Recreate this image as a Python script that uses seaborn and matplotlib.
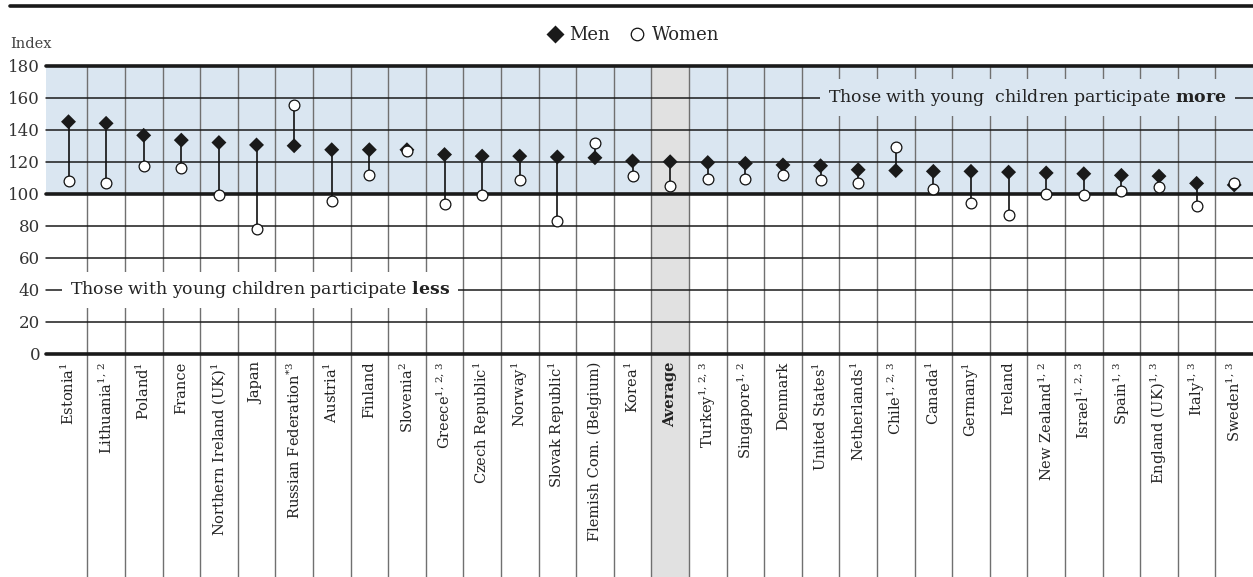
import pandas as pd
import matplotlib
matplotlib.use("Agg")
import matplotlib.pyplot as plt
import seaborn as sns
from matplotlib.lines import Line2D

# Data (index values)
countries = [r"Estonia$^{1}$", r"Lithuania$^{1,\,2}$", r"Poland$^{1}$", "France",
             r"Northern Ireland (UK)$^{1}$", "Japan", r"Russian Federation$^{*3}$",
             r"Austria$^{1}$", "Finland", r"Slovenia$^{2}$", r"Greece$^{1,\,2,\,3}$",
             r"Czech Republic$^{1}$", r"Norway$^{1}$", r"Slovak Republic$^{1}$",
             "Flemish Com. (Belgium)", r"Korea$^{1}$", "Average", r"Turkey$^{1,\,2,\,3}$",
             r"Singapore$^{1,\,2}$", "Denmark", r"United States$^{1}$", r"Netherlands$^{1}$",
             r"Chile$^{1,\,2,\,3}$", r"Canada$^{1}$", r"Germany$^{1}$", "Ireland",
             r"New Zealand$^{1,\,2}$", r"Israel$^{1,\,2,\,3}$", r"Spain$^{1,\,3}$",
             r"England (UK)$^{1,\,3}$", r"Italy$^{1,\,3}$", r"Sweden$^{1,\,3}$"]
men = [145, 144, 136.5, 133.5, 132, 130.5, 130, 127.5, 127.5, 127.5, 124.5, 123.5,
       123.5, 123, 122.5, 120.5, 120, 119.5, 119, 118, 117.5, 115, 114.5, 114, 114,
       113.5, 113, 112.5, 111.5, 111, 106.5, 105.5]
women = [108, 107, 117.5, 116, 99.5, 78, 155.5, 95.5, 111.5, 126.5, 93.5, 99, 108.5,
         83, 132, 111, 105, 109, 109, 112, 108.5, 107, 129, 103, 94.5, 87, 100, 99.5,
         101.5, 104.5, 92.5, 107]
yticks = [0, 20, 40, 60, 80, 100, 120, 140, 160, 180]

df = pd.DataFrame({"pos": range(len(countries)), "Men": men, "Women": women})
avg_pos = countries.index("Average")

sns.set_style("white")
plt.rcParams['font.family'] = ['DejaVu Serif']
plt.rcParams['mathtext.fontset'] = 'dejavuserif'

BLUE = "#dae6f1"
GREY = "#e1e1e1"

fig = plt.figure(figsize=(12.53, 5.77), dpi=100)
ax = fig.add_axes([45.7 / 1253, 0, 1 - 45.7 / 1253, 1 - 65.7 / 577])
ax.set_xlim(-0.5 - 4 / 37.6, len(countries) - 0.5)
ax.set_ylim(-139.4, 180)

# bands
ax.axhspan(100, 180, color=BLUE, zorder=0, lw=0)
ax.axvspan(avg_pos - 0.5, avg_pos + 0.5, ymax=1.0, color=GREY, zorder=0.5, lw=0)

# column separators
for k in range(1, len(countries)):
    ax.axvline(k - 0.5, color="#707070", lw=1.0, zorder=1)

# horizontal grid
for v in yticks:
    thick = v in (0, 100, 180)
    ax.axhline(v, color="#1a1a1a", lw=2.6 if thick else 1.1, zorder=1.5, clip_on=False)

# stems and markers
ax.vlines(df["pos"], df["Women"], df["Men"], color="#111111", lw=1.2, zorder=3)
sns.scatterplot(data=df, x="pos", y="Men", marker="D", color="#1a1a1a", s=58,
                edgecolor="none", ax=ax, zorder=4, legend=False)
sns.scatterplot(data=df, x="pos", y="Women", marker="o", color="white", s=60,
                edgecolor="#111111", linewidth=0.9, ax=ax, zorder=5, legend=False)

# axes styling
for s in ax.spines.values():
    s.set_visible(False)
ax.set_xticks([])
ax.set_yticks(yticks)
ax.set_yticklabels([str(v) for v in yticks], fontsize=12, color="#333333")
ax.tick_params(axis="y", length=0, pad=4)
ax.set_xlabel("")
ax.set_ylabel("")

# category labels
for i, lab in enumerate(countries):
    ax.text(i, -5, lab, rotation=90, ha="center", va="top", fontsize=10.5,
            color="#222222", fontweight="bold" if lab == "Average" else "normal")

# annotations
ax.text(25.5, 160, r"Those with young  children participate $\mathbf{more}$",
        ha="center", va="center", fontsize=12.5, color="#222222", zorder=6,
        bbox=dict(boxstyle="square,pad=0.45", fc=BLUE, ec="none"))
ax.text(5.1, 40, r"Those with young children participate $\mathbf{less}$",
        ha="center", va="center", fontsize=12.5, color="#222222", zorder=6,
        bbox=dict(boxstyle="square,pad=0.45", fc="white", ec="none"))

# top rule, index label, legend
fig.add_artist(Line2D([10 / 1253, 1.0], [1 - 5.5 / 577] * 2, color="#1a1a1a", lw=2.6))
fig.text(10 / 1253, 1 - 44 / 577, "Index", fontsize=10.5, color="#444444", va="center")
handles = [Line2D([], [], marker="D", ls="", color="#1a1a1a", markersize=9, mec="none"),
           Line2D([], [], marker="o", ls="", mfc="white", mec="#111111", markersize=9, mew=0.9)]
fig.legend(handles, ["Men", "Women"], loc="center", bbox_to_anchor=(0.505, 1 - 35 / 577),
           ncol=2, frameon=False, fontsize=13, handletextpad=0.3, columnspacing=1.0,
           handlelength=1.0)

fig.savefig("out.png", dpi=100)
